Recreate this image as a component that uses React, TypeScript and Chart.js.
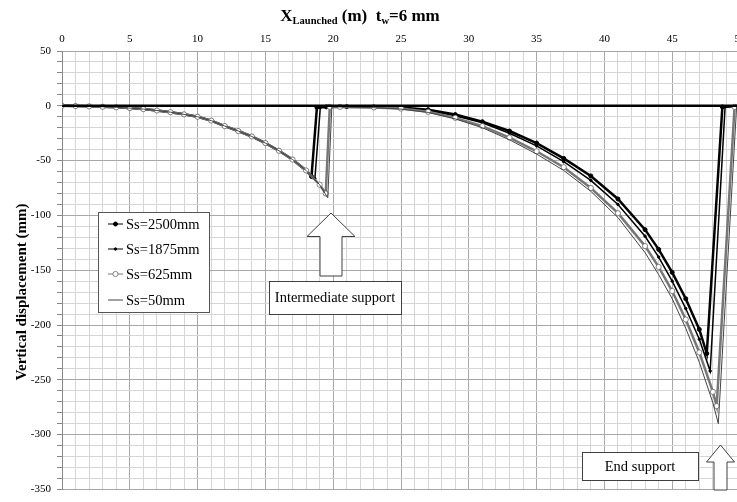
import { useEffect, useRef } from 'react';
import { Chart, registerables } from 'chart.js';

Chart.register(...registerables);

// ---- tick labels ----
const xTickLabels = [0, 5, 10, 15, 20, 25, 30, 35, 40, 45, 50];
const yTickLabels = [50, 0, -50, -100, -150, -200, -250, -300, -350];

// ---- first span (nose cantilever before intermediate support), shared by all cases ----
const spanOneX = [0, 1, 2, 3, 4, 5, 6, 7, 8, 9, 10, 11, 12, 13, 14, 15, 16, 17, 18];
const spanOneY = [0, -0.2, -0.5, -0.9, -1.4, -2.1, -3, -4.3, -5.8, -7.8, -10, -13.5, -18.5, -23, -28, -34, -41, -49, -59];

// ---- Ss = 2500 mm ----
const ss2500X = [18.4, 18.8, 19.5, 21, 23, 25, 27, 29, 31, 33, 35, 37, 39, 41, 43, 44, 45, 46, 47, 47.55, 48.7, 50];
const ss2500Y = [-64.5, -1.5, -1, -0.8, -1, -1.5, -3.5, -8, -14.5, -23, -34, -48, -64, -85, -113, -131, -152, -176, -204, -226, -1, 0];

// ---- Ss = 1875 mm ----
const ss1875X = [18.65, 19.05, 19.8, 21, 23, 25, 27, 29, 31, 33, 35, 37, 39, 41, 43, 44, 45, 46, 47, 47.8, 48.9, 50];
const ss1875Y = [-66.5, -1.5, -1, -0.9, -1.1, -1.7, -4, -9, -15.5, -25, -36.5, -51, -68, -90, -119, -138, -160, -185, -213, -242, -1, 0];

// ---- Ss = 625 mm ----
const ss625X = [19, 19.45, 19.75, 20.5, 23, 25, 27, 29, 31, 33, 35, 37, 39, 41, 43, 44, 45, 46, 47, 48, 48.28, 49.6, 50];
const ss625Y = [-72, -80, -1, -1, -1.5, -2.5, -5.5, -11, -18.5, -29, -41.5, -56, -75, -98, -128, -147, -169, -195, -225, -261, -274, -1, 0];

// ---- Ss = 50 mm ----
const ss50X = [19, 19.6, 19.9, 20.5, 23, 25, 27, 29, 31, 33, 35, 37, 39, 41, 43, 44, 45, 46, 47, 48, 48.4, 49.75, 50];
const ss50Y = [-72, -84, -1, -1, -1.7, -3, -6, -12, -20, -31, -44, -59, -78, -102, -134, -154, -176, -203, -234, -271, -290, -1, 0];

// ---- reference (undeformed) line ----
const baseX = [0, 50];
const baseY = [0, 0];

const seriesNames = ['Ss=2500mm', 'Ss=1875mm', 'Ss=625mm', 'Ss=50mm'];

const SERIF = '"Liberation Serif", "Times New Roman", serif';

function pts(xs: number[], ys: number[]) {
  return xs.map((x, i) => ({ x, y: ys[i] }));
}

const decorPlugin = {
  id: 'decor',
  afterDraw(chart: any) {
    const ctx: CanvasRenderingContext2D = chart.ctx;
    ctx.save();
    ctx.fillStyle = '#000';
    // ---- title with subscripts ----
    const segs = [
      { t: 'X', s: 17, dy: 0 },
      { t: 'Launched', s: 10.5, dy: 3 },
      { t: ' (m)  t', s: 17, dy: 0 },
      { t: 'w', s: 10.5, dy: 3 },
      { t: '=6 mm', s: 17, dy: 0 },
    ];
    let total = 0;
    segs.forEach((sg) => {
      ctx.font = `bold ${sg.s}px ${SERIF}`;
      total += ctx.measureText(sg.t).width;
    });
    let tx = 360 - total / 2;
    ctx.textAlign = 'left';
    ctx.textBaseline = 'alphabetic';
    segs.forEach((sg) => {
      ctx.font = `bold ${sg.s}px ${SERIF}`;
      ctx.fillText(sg.t, tx, 20.5 + sg.dy);
      tx += ctx.measureText(sg.t).width;
    });

    // ---- y-axis title ----
    ctx.save();
    ctx.translate(22, 292);
    ctx.rotate(-Math.PI / 2);
    ctx.font = `bold 15px ${SERIF}`;
    ctx.textAlign = 'center';
    ctx.textBaseline = 'middle';
    ctx.fillText('Vertical displacement (mm)', 0, 0);
    ctx.restore();

    // ---- arrows & boxes ----
    const upArrow = (cx: number, tipY: number, headY: number, bottomY: number, headHalf: number, shaftHalf: number) => {
      ctx.beginPath();
      ctx.moveTo(cx, tipY);
      ctx.lineTo(cx + headHalf, headY);
      ctx.lineTo(cx + shaftHalf, headY);
      ctx.lineTo(cx + shaftHalf, bottomY);
      ctx.lineTo(cx - shaftHalf, bottomY);
      ctx.lineTo(cx - shaftHalf, headY);
      ctx.lineTo(cx - headHalf, headY);
      ctx.closePath();
      ctx.fillStyle = '#fff';
      ctx.fill();
      ctx.strokeStyle = '#404040';
      ctx.lineWidth = 1;
      ctx.stroke();
    };
    const textBox = (x0: number, y0: number, x1: number, y1: number, text: string) => {
      ctx.fillStyle = '#fff';
      ctx.fillRect(x0, y0, x1 - x0, y1 - y0);
      ctx.strokeStyle = '#404040';
      ctx.lineWidth = 1;
      ctx.strokeRect(x0 + 0.5, y0 + 0.5, x1 - x0, y1 - y0);
      ctx.fillStyle = '#000';
      ctx.font = `14.5px ${SERIF}`;
      ctx.textAlign = 'center';
      ctx.textBaseline = 'middle';
      ctx.fillText(text, (x0 + x1) / 2, (y0 + y1) / 2 + 1);
    };
    upArrow(331, 213, 236.5, 276, 24, 11);
    textBox(269, 281, 401, 314, 'Intermediate support');
    upArrow(720.5, 445, 462, 490, 14, 6.5);
    textBox(582, 452, 698, 480, 'End support');

    // ---- legend ----
    const lx0 = 98, ly0 = 212, lx1 = 209, ly1 = 312;
    ctx.fillStyle = '#fff';
    ctx.fillRect(lx0, ly0, lx1 - lx0, ly1 - ly0);
    ctx.strokeStyle = '#555';
    ctx.lineWidth = 1;
    ctx.strokeRect(lx0 + 0.5, ly0 + 0.5, lx1 - lx0, ly1 - ly0);
    const rows = [224, 249, 274, 300];
    chart.data.datasets.slice(0, 4).forEach((ds: any, i: number) => {
      const y = rows[i];
      ctx.beginPath();
      ctx.moveTo(108, y);
      ctx.lineTo(123, y);
      ctx.strokeStyle = ds.borderColor;
      ctx.lineWidth = 1;
      ctx.stroke();
      if (ds.pointRadius > 0) {
        ctx.beginPath();
        ctx.arc(115.5, y, ds.pointRadius, 0, Math.PI * 2);
        ctx.fillStyle = ds.pointBackgroundColor;
        ctx.fill();
        ctx.strokeStyle = ds.pointBorderColor;
        ctx.lineWidth = ds.pointBorderWidth;
        ctx.stroke();
      }
      ctx.fillStyle = '#000';
      ctx.font = `14.5px ${SERIF}`;
      ctx.textAlign = 'left';
      ctx.textBaseline = 'middle';
      ctx.fillText(ds.label, 126, y + 1);
    });
    ctx.restore();
  },
};

export default function App() {
  const ref = useRef<HTMLCanvasElement | null>(null);

  useEffect(() => {
    if (!ref.current) return;
    Chart.defaults.font.family = SERIF;
    const first = pts(spanOneX, spanOneY);
    const chart = new Chart(ref.current, {
      type: 'line',
      data: {
        datasets: [
          {
            label: seriesNames[0],
            data: [...first, ...pts(ss2500X, ss2500Y)],
            borderColor: '#000',
            borderWidth: 2.5,
            pointRadius: 2,
            pointBackgroundColor: '#000',
            pointBorderColor: '#000',
            pointBorderWidth: 1,
            order: 4,
          },
          {
            label: seriesNames[1],
            data: [...first, ...pts(ss1875X, ss1875Y)],
            borderColor: '#000',
            borderWidth: 1.5,
            pointRadius: 1.2,
            pointBackgroundColor: '#000',
            pointBorderColor: '#000',
            pointBorderWidth: 1,
            order: 3,
          },
          {
            label: seriesNames[2],
            data: [...first, ...pts(ss625X, ss625Y)],
            borderColor: '#777',
            borderWidth: 2.5,
            pointRadius: 2.6,
            pointBackgroundColor: '#fff',
            pointBorderColor: '#666',
            pointBorderWidth: 0.8,
            order: 2,
          },
          {
            label: seriesNames[3],
            data: [...first, ...pts(ss50X, ss50Y)],
            borderColor: '#444',
            borderWidth: 1,
            pointRadius: 0,
            pointBackgroundColor: '#444',
            pointBorderColor: '#444',
            pointBorderWidth: 1,
            order: 1,
          },
          {
            label: 'base',
            data: pts(baseX, baseY),
            borderColor: '#000',
            borderWidth: 2.5,
            pointRadius: 0,
            order: 0,
          },
        ],
      },
      options: {
        responsive: false,
        animation: false,
        events: [],
        layout: { padding: { left: 0, right: 12, top: 0, bottom: 7 } },
        plugins: {
          legend: { display: false },
          title: { display: false },
          tooltip: { enabled: false },
        },
        scales: {
          x: {
            type: 'linear',
            position: 'top',
            min: 0,
            max: 50,
            afterFit: (s: any) => {
              s.height = 51;
            },
            ticks: {
              stepSize: 1,
              autoSkip: false,
              maxRotation: 0,
              padding: 5,
              color: '#000',
              font: { size: 11, family: SERIF },
              callback: (v: any) => (xTickLabels.includes(Number(v)) ? String(v) : ''),
            },
            grid: {
              drawTicks: false,
              color: (c: any) => (c.tick && c.tick.value % 5 === 0 ? '#a8a8a8' : '#d6d6d6'),
            },
            border: { display: true, color: '#a8a8a8' },
          },
          y: {
            type: 'linear',
            min: -350,
            max: 50,
            afterFit: (s: any) => {
              s.width = 62;
            },
            ticks: {
              stepSize: 10,
              autoSkip: false,
              padding: 6,
              color: '#000',
              font: { size: 11, family: SERIF },
              callback: (v: any) => (yTickLabels.includes(Number(v)) ? String(v) : ''),
            },
            grid: {
              tickLength: 5,
              tickColor: '#888',
              color: (c: any) => (c.tick && c.tick.value % 50 === 0 ? '#a8a8a8' : '#d6d6d6'),
            },
            border: { display: true, color: '#888' },
          },
        },
      },
      plugins: [decorPlugin],
    } as any);
    return () => chart.destroy();
  }, []);

  return (
    <div
      style={{
        position: 'absolute',
        left: 0,
        top: 0,
        width: 737,
        height: 502,
        overflow: 'hidden',
        background: '#fff',
      }}
    >
      <canvas ref={ref} width={752} height={502} style={{ display: 'block' }} />
    </div>
  );
}
